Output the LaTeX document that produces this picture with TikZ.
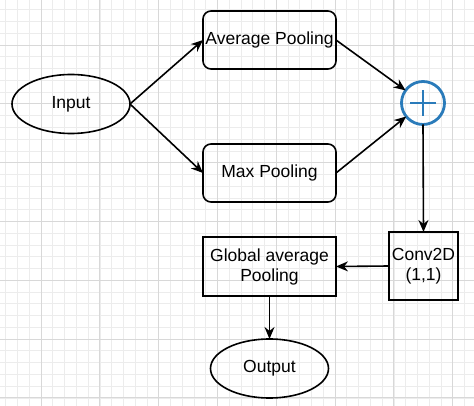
\documentclass[tikz,border=0pt]{standalone}
\usepackage{fontspec}
\setmainfont{Liberation Sans}
\usetikzlibrary{arrows.meta,shapes.geometric}
\definecolor{plusblue}{HTML}{2A7BBA}
\definecolor{gridmajor}{HTML}{D8D8D8}
\definecolor{gridminor}{HTML}{ECECEC}
\begin{document}
\begin{tikzpicture}[x=1pt,y=-1pt,
  font=\fontsize{17.5}{20}\selectfont,
  every node/.style={inner sep=0pt,outer sep=0pt},
  box/.style={draw,line width=1.6pt,minimum width=133pt,minimum height=58pt,align=center},
  rbox/.style={box,rounded corners=8pt},
  oval/.style={draw,line width=1.6pt,ellipse,minimum width=118pt,minimum height=59pt},
  conn/.style={line width=1.6pt,-{Stealth[length=12pt,width=10pt]}}]
\useasboundingbox (0,0) rectangle (474,406);
\fill[white] (0,0) rectangle (474,406);
% grid
\foreach \i in {-3,...,40} {
  \draw[gridminor,line width=0.6pt] ({41+11.76*\i},0) -- ({41+11.76*\i},406);
  \draw[gridminor,line width=0.6pt] (0,{45+11.76*\i}) -- (474,{45+11.76*\i});
}
\foreach \i in {-1,...,7} {
  \draw[gridmajor,line width=0.9pt] ({41+58.8*\i},0) -- ({41+58.8*\i},406);
  \draw[gridmajor,line width=0.9pt] (0,{45+58.8*\i}) -- (474,{45+58.8*\i});
}
% nodes
\node[oval] (input) at (71,104) {Input};
\node[rbox] (avg) at (269.5,40) {Average Pooling};
\node[rbox] (max) at (269.5,173) {Max Pooling};
\node[draw=plusblue,line width=2.8pt,circle,minimum size=43pt] (plus) at (423,103) {};
\draw[plusblue,line width=2.6pt] ([xshift=-13pt]plus.center) -- ([xshift=13pt]plus.center)
  ([yshift=-13pt]plus.center) -- ([yshift=13pt]plus.center);
\node[box,minimum width=69pt,minimum height=68pt] (conv) at (423.5,266) {Conv2D\\(1,1)};
\node[box,minimum height=59pt] (gap) at (269.5,266.5) {Global average\\Pooling};
\node[oval] (out) at (269.5,368.5) {Output};
% connectors
\draw[conn] (input.east) -- (avg.west);
\draw[conn] (input.east) -- (max.west);
\draw[conn] (avg.east) -- (plus);
\draw[conn] (max.east) -- (plus);
\draw[conn] (plus.south) -- (conv.north);
\draw[conn] (conv.west) -- (gap.east);
\draw[conn] (gap.south) -- (out.north);
\end{tikzpicture}
\end{document}
